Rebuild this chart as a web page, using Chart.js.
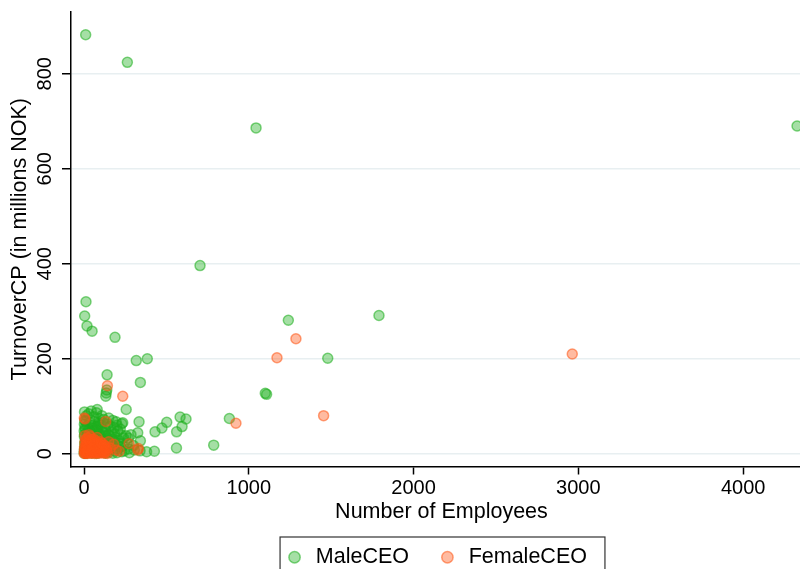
<!DOCTYPE html>
<html>
<head>
<meta charset="utf-8">
<script src="https://cdn.jsdelivr.net/npm/chart.js@4/dist/chart.umd.min.js"></script>
<style>
  html, body { margin: 0; padding: 0; background: #fff; overflow: hidden; }
  #wrap { width: 800px; height: 569px; overflow: hidden; }
  #box { position: relative; width: 800px; height: 578px; }
</style>
</head>
<body>
<div id="wrap"><div id="box"><canvas id="scatterChart"></canvas></div></div>
<script>
// [number of employees, turnover in millions NOK]
const malePoints = [
  [10, 882], [263, 824], [1044, 686], [4327, 690], [704, 396], [12, 320], [4, 290], [18, 269],
  [49, 258], [188, 245], [317, 196], [384, 200], [1240, 281], [1790, 291], [1479, 201],
  [1100, 127], [1108, 125], [882, 74], [787, 18],
  [140, 166], [342, 150], [132, 121], [135, 128], [138, 134], [256, 93], [80, 93], [334, 67],
  [583, 77], [619, 73], [502, 66], [473, 54], [595, 57], [562, 46], [431, 46], [561, 12],
  [380, 4], [427, 5], [326, 44], [342, 27], [195, 67], [235, 65], [285, 40], [269, 33],
  [255, 38], [229, 63],
  [3, 88], [15, 80], [28, 84], [44, 90], [60, 78], [76, 86], [92, 74], [108, 80], [120, 72],
  [150, 75], [175, 70],
  [2, 62], [10, 68], [22, 58], [35, 66], [48, 60], [62, 68], [74, 57], [88, 64], [100, 60],
  [114, 66], [128, 56], [145, 62], [160, 58], [182, 55], [200, 60], [220, 52],
  [1, 48], [8, 52], [18, 44], [30, 50], [42, 42], [54, 54], [66, 46], [80, 50], [94, 42],
  [106, 52], [118, 44], [132, 48], [148, 40], [165, 46], [185, 42], [205, 48], [225, 40],
  [2, 36], [12, 30], [24, 38], [36, 32], [50, 36], [64, 28], [78, 38], [90, 32], [104, 36],
  [116, 30], [130, 38], [144, 32], [158, 36], [172, 30], [190, 34], [210, 28], [240, 33],
  [4, 22], [14, 26], [26, 18], [38, 24], [52, 20], [66, 26], [80, 16], [94, 24], [108, 20],
  [122, 26], [136, 18], [150, 24], [164, 20], [180, 26], [196, 18], [214, 22], [236, 16],
  [262, 22], [300, 17],
  [3, 10], [16, 6], [30, 12], [44, 8], [58, 14], [72, 6], [86, 12], [100, 8], [114, 14],
  [128, 6], [142, 12], [156, 8], [170, 14], [186, 6], [204, 10], [222, 14], [244, 6],
  [270, 10], [305, 8], [340, 6],
  [1, 1], [6, 3], [12, 0.5], [20, 2], [32, 4], [46, 1], [60, 3], [75, 0.5], [90, 2],
  [110, 4], [130, 1], [150, 3], [175, 1], [200, 2], [230, 4], [275, 2],
  [2, 5], [5, 15], [8, 25], [3, 40], [6, 55], [4, 70], [9, 2], [14, 12], [25, 7], [35, 15],
  [45, 28], [55, 40], [68, 50], [85, 58], [55, 8], [70, 18], [40, 45]
];

const femalePoints = [
  [1286, 242], [1171, 202], [2963, 210], [1454, 80], [922, 64],
  [2, 75], [6, 73], [132, 68], [142, 143], [235, 121], [330, 11], [273, 21], [214, 5],
  [326, 8], [160, 12], [180, 20], [195, 8], [150, 25],
  [1, 0.5], [5, 2], [10, 1], [16, 3], [22, 0.5], [30, 2], [38, 4], [46, 1], [55, 3],
  [64, 0.5], [74, 2], [84, 4], [95, 1], [106, 3], [118, 1], [130, 2], [142, 0.5],
  [2, 8], [8, 6], [14, 10], [22, 7], [30, 11], [40, 6], [50, 9], [60, 12], [70, 7],
  [82, 10], [94, 6], [106, 9], [120, 7], [134, 10],
  [3, 14], [12, 18], [20, 15], [30, 19], [42, 13], [54, 17], [66, 14], [78, 19], [90, 15],
  [104, 18], [116, 13], [128, 16],
  [5, 24], [15, 28], [28, 22], [40, 26], [56, 23], [70, 27], [85, 22], [100, 25],
  [6, 38], [20, 33], [38, 36], [58, 31], [80, 34],
  [8, 1], [18, 5], [26, 3], [34, 8], [44, 2], [52, 6], [62, 4], [72, 11], [80, 1], [88, 7],
  [100, 12], [112, 5], [124, 3], [138, 6], [12, 13], [26, 12], [48, 16], [62, 20], [76, 13],
  [96, 20], [110, 22], [122, 18], [18, 22], [34, 26], [48, 30], [10, 30], [30, 40]
];

const xTicks = [0, 1000, 2000, 3000, 4000];
const yTicks = [0, 200, 400, 600, 800];
const seriesNames = ['MaleCEO', 'FemaleCEO'];

Chart.defaults.font.family = "'Liberation Sans', Arial, sans-serif";
Chart.defaults.color = '#000';

// box round the legend, as in the original
const legendFrame = {
  id: 'legendFrame',
  afterDraw(chart) {
    const lg = chart.legend;
    const hb = lg.legendHitBoxes;
    if (!hb || !hb.length) return;
    const first = hb.reduce((a, b) => (b.left < a.left ? b : a));
    const last = hb.reduce((a, b) => (b.left > a.left ? b : a));
    const left = first.left - 4;
    const right = last.left + last.width + 18;
    const c = chart.ctx;
    c.save();
    c.strokeStyle = '#333';
    c.lineWidth = 1.2;
    c.strokeRect(left, lg.top + 0.5, right - left, lg.bottom - lg.top + 20);
    c.restore();
  }
};

const ctx = document.getElementById('scatterChart').getContext('2d');
new Chart(ctx, {
  type: 'scatter',
  data: {
    datasets: [{
      label: seriesNames[0],
      data: malePoints.map(p => ({x: p[0], y: p[1]})),
      backgroundColor: 'rgba(30, 175, 30, 0.4)',
      borderColor: 'rgba(30, 175, 30, 0.55)',
      borderWidth: 1.5,
      pointRadius: 5,
      pointHoverRadius: 5,
      order: 2
    }, {
      label: seriesNames[1],
      data: femalePoints.map(p => ({x: p[0], y: p[1]})),
      backgroundColor: 'rgba(255, 85, 20, 0.4)',
      borderColor: 'rgba(255, 85, 20, 0.55)',
      borderWidth: 1.5,
      pointRadius: 5,
      pointHoverRadius: 5,
      order: 1
    }]
  },
  options: {
    responsive: true,
    maintainAspectRatio: false,
    animation: false,
    layout: { padding: 0, autoPadding: false },
    plugins: {
      tooltip: { enabled: false },
      legend: {
        position: 'bottom',
        fullSize: false,
        labels: {
          usePointStyle: true,
          pointStyle: 'circle',
          boxHeight: 8,
          boxWidth: 21,
          padding: 10,
          color: '#000',
          font: { size: 21.5 },
          sort: (a, b) => a.datasetIndex - b.datasetIndex,
          generateLabels(chart) {
            const items = Chart.defaults.plugins.legend.labels.generateLabels(chart);
            items.forEach(it => { if (it.datasetIndex === 0) it.text = it.text + '   '; });
            return items;
          }
        }
      }
    },
    scales: {
      x: {
        type: 'linear',
        min: -79,
        max: 4345,
        afterBuildTicks: s => { s.ticks = xTicks.map(v => ({value: v})); },
        afterFit: s => { s.height = 70; s.paddingRight = 0; s.paddingLeft = 0; },
        border: { color: '#000', width: 1.5 },
        grid: { drawOnChartArea: false, tickColor: '#000', tickLength: 8, tickWidth: 1.5 },
        ticks: { color: '#000', font: { size: 20 }, padding: 2, maxRotation: 0, callback: v => String(v) },
        title: {
          display: true,
          text: '  Number of Employees',
          color: '#000',
          font: { size: 21.5 },
          padding: { top: 0, bottom: 12 }
        }
      },
      y: {
        type: 'linear',
        min: -27,
        max: 930,
        afterBuildTicks: s => { s.ticks = yTicks.map(v => ({value: v})); },
        afterFit: s => { s.width = 71; },
        border: { color: '#000', width: 1.5 },
        grid: { color: '#e8eff1', lineWidth: 1.5, tickColor: '#000', tickLength: 9, tickWidth: 1.5 },
        ticks: { color: '#000', font: { size: 20 }, minRotation: 90, maxRotation: 90, crossAlign: 'center', padding: 0, callback: v => String(v) },
        title: {
          display: true,
          text: 'TurnoverCP (in millions NOK)',
          color: '#000',
          font: { size: 21.5 },
          padding: { top: 7, bottom: 0 }
        }
      }
    }
  },
  plugins: [legendFrame]
});
</script>
</body>
</html>
